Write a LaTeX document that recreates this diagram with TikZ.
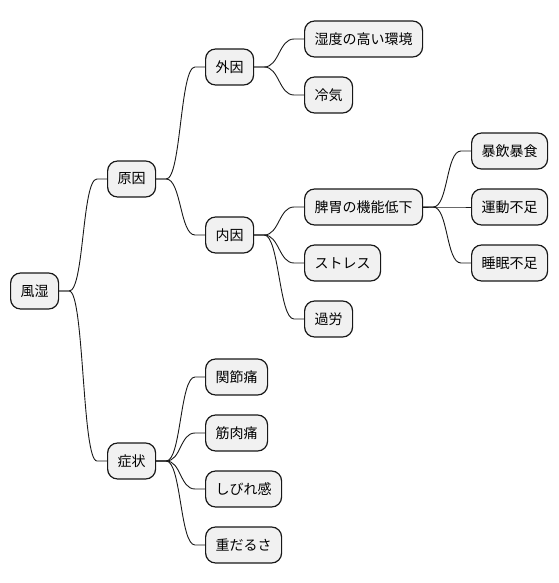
\documentclass[tikz,border=0pt]{standalone}
\usepackage{fontspec}
\newfontfamily\jpfont{Noto Sans CJK JP}
\usepackage{xcolor}
\usepackage{tikz}
\usetikzlibrary{calc}
\definecolor{boxfill}{HTML}{F1F1F1}
\definecolor{boxline}{HTML}{181818}

\begin{document}
\begin{tikzpicture}[x=1pt, y=-1pt,
  topic/.style={draw=boxline, fill=boxfill, line width=1.2pt, rounded corners=10pt,
    minimum height=36pt, inner xsep=10pt, inner ysep=0pt, anchor=west,
    font=\jpfont\fontsize{14}{16}\selectfont},
  branch/.style={line width=0.9pt, boxline}]
  \useasboundingbox (0,0) rectangle (558,583);
  % root and first level
  \node[topic] (fushitsu) at (10,291) {風湿};
  \node[topic] (genin) at (107,179) {原因};
  \node[topic] (shojo) at (107,461) {症状};
  % causes
  \node[topic] (gaiin) at (205,67) {外因};
  \node[topic] (naiin) at (205,235) {内因};
  \node[topic] (shitsudo) at (304,39) {湿度の高い環境};
  \node[topic] (reiki) at (304,95) {冷気};
  \node[topic] (hii) at (304,207) {脾胃の機能低下};
  \node[topic] (stress) at (304,263) {ストレス};
  \node[topic] (karo) at (304,319) {過労};
  \node[topic] (boin) at (471,151) {暴飲暴食};
  \node[topic] (undo) at (471,207) {運動不足};
  \node[topic] (suimin) at (471,263) {睡眠不足};
  % symptoms
  \node[topic] (kansetsu) at (205,377) {関節痛};
  \node[topic] (kinniku) at (205,433) {筋肉痛};
  \node[topic] (shibire) at (205,489) {しびれ感};
  \node[topic] (omodaru) at (205,545) {重だるさ};
  % branches
  \foreach \a/\b in {fushitsu/genin, fushitsu/shojo, genin/gaiin, genin/naiin,
      gaiin/shitsudo, gaiin/reiki, naiin/hii, naiin/stress, naiin/karo,
      hii/boin, hii/undo, hii/suimin, shojo/kansetsu, shojo/kinniku,
      shojo/shibire, shojo/omodaru}
    \draw[branch] (\a.east) -- ++(10,0)
      .. controls +(15,0) and ($(\b.west)+(-25,0)$) .. ($(\b.west)+(-10,0)$)
      -- (\b.west);
\end{tikzpicture}
\end{document}
